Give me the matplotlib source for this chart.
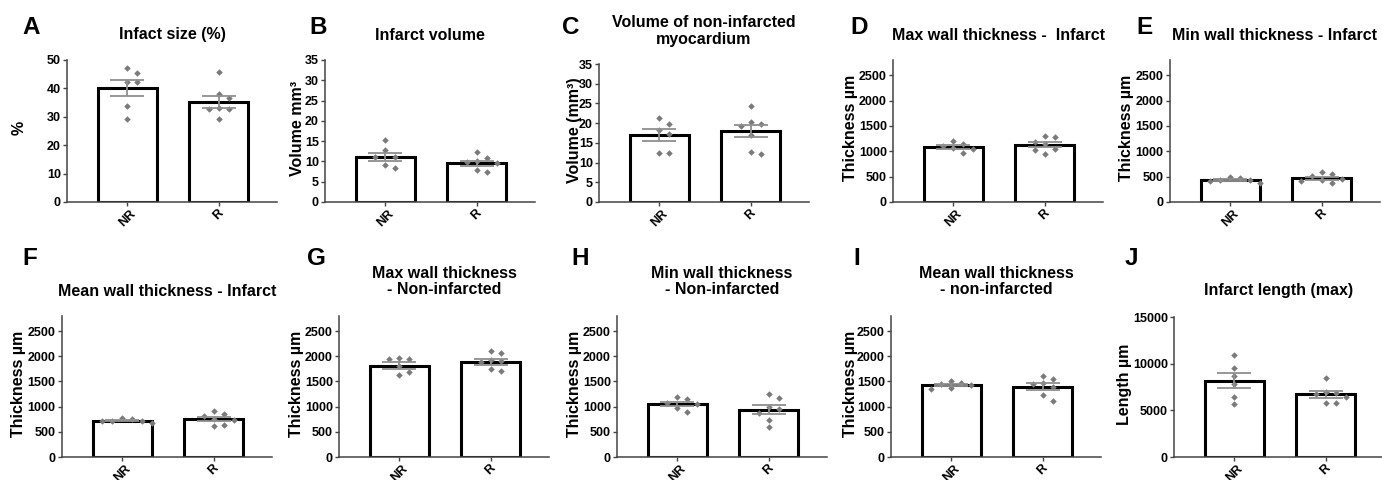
import matplotlib
matplotlib.use('Agg')
import matplotlib.pyplot as plt
import numpy as np

plt.rcParams['font.family'] = ['Liberation Sans', 'DejaVu Sans']
plt.rcParams['font.weight'] = 'bold'

# ---------------- data ----------------
groups = ['NR', 'R']

letters = ['A', 'B', 'C', 'D', 'E', 'F', 'G', 'H', 'I', 'J']
titles = ['Infact size (%)', 'Infarct volume', 'Volume of non-infarcted\nmyocardium',
          'Max wall thickness -  Infarct', 'Min wall thickness - Infarct',
          'Mean wall thickness - Infarct', 'Max wall thickness\n- Non-infarcted',
          'Min wall thickness\n- Non-infarcted', 'Mean wall thickness\n- non-infarcted',
          'Infarct length (max)']
ylabels = ['%', 'Volume mm\u00b3', 'Volume (mm\u00b3)', 'Thickness \u00b5m', 'Thickness \u00b5m',
           'Thickness \u00b5m', 'Thickness \u00b5m', 'Thickness \u00b5m', 'Thickness \u00b5m',
           'Length \u00b5m']

nr_A = [47.3, 45.3, 42.4, 42.2, 33.8, 29.4]
r_A = [45.6, 38.1, 36.6, 33.0, 32.8, 32.6, 29.4]
nr_B = [15.3, 12.8, 11.2, 11.1, 9.1, 8.3]
r_B = [12.3, 10.9, 10.2, 9.8, 9.6, 7.9, 7.3]
nr_C = [21.4, 19.8, 18.3, 17.2, 12.4, 12.4]
r_C = [24.4, 20.4, 19.9, 19.4, 17.1, 12.8, 12.2]
nr_D = [1210, 1140, 1100, 1060, 1050, 970]
r_D = [1310, 1290, 1180, 1150, 1040, 1020, 950]
nr_E = [487, 480, 440, 430, 420, 380]
r_E = [590, 550, 520, 460, 430, 420, 370]
nr_F = [780, 750, 720, 710, 710, 670]
r_F = [910, 850, 820, 750, 730, 640, 610]
nr_G = [1970, 1950, 1940, 1810, 1690, 1630]
r_G = [2110, 2060, 1930, 1900, 1880, 1750, 1700]
nr_H = [1190, 1150, 1080, 1060, 970, 900]
r_H = [1250, 1180, 1000, 950, 880, 740, 600]
nr_I = [1510, 1470, 1440, 1430, 1370, 1350]
r_I = [1610, 1550, 1460, 1440, 1400, 1240, 1120]
nr_J = [10950, 9550, 8650, 7800, 6450, 5650]
r_J = [8450, 7000, 6900, 6800, 6400, 5800, 5750]

means = [[40.0, 35.1], [11.1, 9.5], [16.9, 18.0], [1085, 1130], [435, 470],
         [720, 755], [1815, 1885], [1055, 940], [1430, 1400], [8180, 6700]]
sems = [[2.85, 2.05], [1.05, 0.7], [1.5, 1.6], [40, 55], [15, 28],
        [15, 42], [65, 60], [45, 85], [25, 65], [820, 350]]

yticks = [[0, 10, 20, 30, 40, 50], [0, 5, 10, 15, 20, 25, 30, 35], [0, 5, 10, 15, 20, 25, 30, 35],
          [0, 500, 1000, 1500, 2000, 2500], [0, 500, 1000, 1500, 2000, 2500],
          [0, 500, 1000, 1500, 2000, 2500], [0, 500, 1000, 1500, 2000, 2500],
          [0, 500, 1000, 1500, 2000, 2500], [0, 500, 1000, 1500, 2000, 2500],
          [0, 5000, 10000, 15000]]
ymaxes = [50, 35, 35, 2800, 2800, 2800, 2800, 2800, 2800, 15000]

points = [(nr_A, r_A), (nr_B, r_B), (nr_C, r_C), (nr_D, r_D), (nr_E, r_E),
          (nr_F, r_F), (nr_G, r_G), (nr_H, r_H), (nr_I, r_I), (nr_J, r_J)]

# ---------------- layout (pixels) ----------------
W_PX, H_PX = 1382, 480
# left, top, bottom of axes; ylabel centre x; letter x; title centre y
layout = {
    'A': (67, 60, 202, 19, 22, 35),
    'B': (325, 60, 202, 298, 309, 35),
    'C': (599, 64, 202, 574, 562, 31),
    'D': (893, 60, 202, 851, 850, 35),
    'E': (1170, 60, 202, 1127, 1136, 35),
    'F': (62, 316, 457, 19, 22, 291),
    'G': (339, 316, 457, 297, 307, 281.5),
    'H': (617, 316, 457, 575, 571, 281.5),
    'I': (891, 316, 457, 851, 853, 281.5),
    'J': (1174, 317, 457, 1124, 1125, 291),
}
AX_W = 210
XLIM = (-0.66, 1.64)
PX_PER_X = AX_W / (XLIM[1] - XLIM[0])


def swarm(vals, ymax, h_px, step=0.11, d_px=7.0):
    """Simple beeswarm: spread points sideways only where markers would overlap."""
    yscale = h_px / ymax
    placed = []
    for v in sorted(vals, reverse=True):
        off = 0.0
        for k in [0, 1, -1, 2, -2, 3, -3, 4, -4]:
            cand = k * step
            if all(((cand - px) * PX_PER_X) ** 2 + ((v - py) * yscale) ** 2 >= d_px ** 2
                   for px, py in placed):
                off = cand
                break
        placed.append((off, v))
    return np.array([p[0] for p in placed]), np.array([p[1] for p in placed])


fig = plt.figure(figsize=(W_PX / 100, H_PX / 100), dpi=100)

spine_col = '#444444'
pt_col = '#7a7a7a'
err_col = '#8f8f8f'

for i, L in enumerate(letters):
    left, top, bottom, ylx, lx, ty = layout[L]
    h_px = bottom - top
    ax = fig.add_axes([left / W_PX, 1 - bottom / H_PX, AX_W / W_PX, h_px / H_PX])
    x = np.arange(len(groups))
    ax.bar(x, means[i], width=0.65, color='white', edgecolor='black', linewidth=2.2, zorder=2)
    for g in range(2):
        dx, yy = swarm(points[i][g], ymaxes[i], h_px)
        ax.scatter(x[g] + dx, yy, marker='D', s=11, color=pt_col, linewidths=0, zorder=3)
    ax.errorbar(x, means[i], yerr=sems[i], fmt='none', ecolor=err_col, elinewidth=1.3,
                capsize=12.5, capthick=1.3, zorder=4)
    ax.set_xlim(*XLIM)
    ax.set_ylim(0, ymaxes[i])
    ax.set_yticks(yticks[i])
    ax.set_xticks(x)
    ax.set_xticklabels(groups, rotation=45, ha='center', fontsize=9, fontweight='bold')
    ax.tick_params(axis='y', labelsize=9, length=3, width=1, color=spine_col, pad=1.5)
    ax.tick_params(axis='x', length=3, width=1, color=spine_col, pad=1)
    for s in ['top', 'right']:
        ax.spines[s].set_visible(False)
    for s in ['left', 'bottom']:
        ax.spines[s].set_color(spine_col)
        ax.spines[s].set_linewidth(1.1)
    for lab in ax.get_yticklabels():
        lab.set_fontweight('bold')
    ax.patch.set_alpha(0)

    # ylabel
    fig.text(ylx / W_PX, 1 - ((top + bottom) / 2 - 3) / H_PX, ylabels[i], rotation=90,
             ha='center', va='center', fontsize=11.5, fontweight='bold')
    # title
    fig.text((left + AX_W / 2) / W_PX, 1 - ty / H_PX, titles[i], ha='center', va='center',
             fontsize=11.5, fontweight='bold', linespacing=1.15)
    # panel letter
    base_y = 34 if top < 240 else 265
    fig.text(lx / W_PX, 1 - base_y / H_PX, L, ha='left', va='baseline', fontsize=17.5,
             fontweight='bold')

fig.savefig('out.png', dpi=100, facecolor='white')
